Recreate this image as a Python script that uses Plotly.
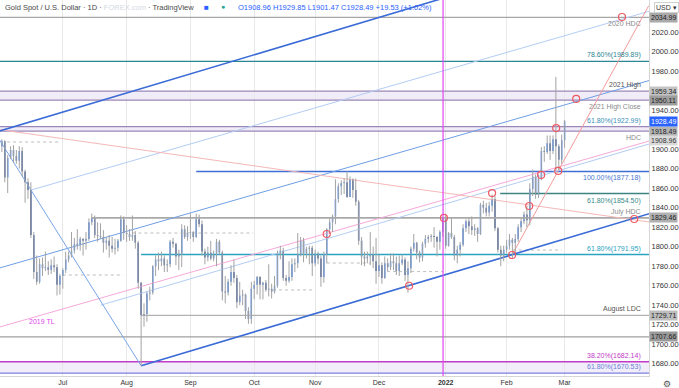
import plotly.graph_objects as go
import pandas as pd

# ---------------- data ----------------
dates = pd.bdate_range("2021-06-01", "2022-03-01")

open_ = [
    1906, 1903, 1908, 1871, 1891, 1899, 1893, 1888, 1898, 1877, 1866, 1858, 1812, 1774, 1764, 1782, 1778, 1779, 1776, 1781, 1779, 1761,
    1770, 1776, 1787, 1791, 1796, 1803, 1802, 1808, 1806, 1808, 1825, 1829.5, 1812, 1811, 1810, 1804, 1806, 1801, 1798, 1799, 1806, 1828,
    1814, 1813, 1810, 1812, 1804, 1763, 1729.7, 1731, 1752, 1753, 1780, 1787, 1785, 1788, 1781, 1782, 1805, 1803, 1790, 1793, 1818, 1810,
    1814, 1815, 1810, 1828, 1823, 1795, 1789, 1794, 1788, 1793, 1805, 1794, 1754, 1753, 1764, 1774, 1768, 1743, 1750, 1751, 1734, 1726,
    1757, 1761, 1769, 1761, 1763, 1756, 1757, 1754, 1760, 1793, 1796, 1768, 1765, 1769, 1782, 1783, 1792, 1806, 1793, 1798, 1799,
    1783, 1793, 1788, 1769, 1792, 1818, 1825, 1831, 1849, 1862, 1865, 1866, 1851, 1869, 1858, 1846, 1806, 1790, 1788, 1790, 1792, 1785,
    1775, 1781, 1768, 1783, 1779, 1785, 1783, 1775, 1783, 1787, 1771, 1778, 1798, 1804, 1794, 1789, 1803, 1808, 1810, 1811, 1810, 1805, 1815,
    1829, 1801, 1814, 1810, 1791, 1797, 1802, 1819, 1826, 1821, 1817, 1819, 1813, 1843, 1840, 1835, 1842, 1849, 1819, 1797, 1791,
    1797, 1801, 1807, 1804, 1808, 1820, 1826, 1833, 1827, 1859, 1872, 1853, 1870, 1898, 1897, 1906, 1898, 1910, 1903, 1889,
    1908.96,
]
high = [
    1916, 1910, 1909, 1894, 1903, 1904, 1899, 1903, 1902, 1879, 1870, 1866, 1815, 1791, 1788, 1789, 1795, 1785, 1787, 1790, 1782, 1772,
    1778, 1795, 1795, 1815, 1809, 1818, 1810, 1809, 1815, 1829, 1834, 1832, 1825, 1824, 1817, 1810, 1812, 1810, 1808, 1808, 1832, 1831,
    1822, 1818, 1832, 1816, 1806, 1764, 1742, 1754, 1759, 1781, 1791, 1794, 1795, 1791, 1787, 1807, 1809, 1804, 1797, 1823, 1822, 1821,
    1834, 1816, 1834, 1833, 1827, 1798, 1800, 1806, 1796, 1808, 1807, 1796, 1770, 1767, 1781, 1787, 1771, 1764, 1756, 1752, 1738, 1764,
    1765, 1770, 1770, 1764, 1766, 1782, 1762, 1770, 1796, 1801, 1799, 1771, 1785, 1788, 1788, 1814, 1810, 1809, 1800, 1801, 1801,
    1797, 1795, 1791, 1795, 1819, 1829, 1833, 1869, 1865, 1868, 1870, 1877.18, 1872, 1870, 1870, 1848, 1810, 1795, 1795, 1815, 1800, 1809,
    1792, 1784, 1790, 1788, 1793, 1793, 1790, 1791, 1792, 1789, 1785, 1800, 1813, 1805, 1796, 1805, 1812, 1812, 1813, 1820, 1811, 1817, 1830,
    1832, 1815, 1829, 1812, 1801, 1805, 1823, 1828, 1829, 1831, 1823, 1820, 1845, 1847, 1845, 1846, 1853.5, 1852, 1820, 1801, 1801,
    1807, 1813, 1809, 1813, 1823, 1829, 1836, 1842, 1865, 1879, 1874, 1874, 1902, 1903, 1914, 1914, 1914, 1974, 1905, 1915,
    1929.85,
]
low = [
    1897, 1897, 1866, 1855, 1890, 1886, 1885, 1880, 1872, 1845, 1849, 1809, 1767, 1761, 1762, 1770, 1775, 1771, 1772, 1774, 1750, 1751,
    1757, 1773, 1784, 1789, 1793, 1797, 1796, 1791, 1797, 1806, 1822, 1809, 1805, 1808, 1794, 1797, 1789, 1794, 1792, 1795, 1805, 1807,
    1805, 1806, 1806, 1798, 1757, 1678, 1718, 1723, 1745, 1751, 1770, 1776, 1780, 1774, 1774, 1779, 1799, 1781, 1776, 1779, 1808, 1806,
    1808, 1805, 1809, 1820, 1791, 1782, 1785, 1786, 1785, 1780, 1792, 1745, 1742, 1750, 1760, 1763, 1737, 1740, 1740, 1726, 1721, 1721,
    1746, 1751, 1746, 1746, 1754, 1749, 1747, 1752, 1758, 1787, 1765, 1760, 1763, 1765, 1774, 1778, 1790, 1784, 1788, 1782, 1770,
    1780, 1782, 1759, 1763, 1783, 1813, 1815, 1823, 1845, 1853, 1854, 1850, 1851, 1850, 1842, 1802, 1781, 1780, 1783, 1781, 1778, 1762,
    1769, 1762, 1767, 1775, 1776, 1776, 1771, 1770, 1781, 1765, 1753, 1773, 1795, 1787, 1784, 1785, 1799, 1804, 1805, 1799, 1790, 1797, 1810,
    1798, 1800, 1808, 1786, 1783, 1790, 1800, 1815, 1813, 1812, 1811, 1805, 1812, 1834, 1831, 1831, 1836, 1816, 1794, 1780, 1785,
    1794, 1797, 1788, 1792, 1805, 1815, 1823, 1820, 1822, 1852, 1849, 1850, 1868, 1887, 1895, 1889, 1895, 1878, 1878, 1885,
    1901.47,
]
close = [
    1903, 1908, 1871, 1891, 1899, 1893, 1888, 1898, 1877, 1866, 1858, 1812, 1774, 1764, 1782, 1778, 1779, 1776, 1781, 1779, 1761, 1770,
    1776, 1787, 1791, 1796, 1803, 1802, 1808, 1806, 1808, 1825, 1829.5, 1812, 1811, 1810, 1804, 1806, 1801, 1798, 1799, 1806, 1828, 1814,
    1813, 1810, 1812, 1804, 1763, 1729.7, 1731, 1752, 1753, 1780, 1787, 1785, 1788, 1781, 1782, 1805, 1803, 1790, 1793, 1818, 1810, 1814,
    1815, 1810, 1828, 1823, 1795, 1789, 1794, 1788, 1793, 1805, 1794, 1754, 1753, 1764, 1774, 1768, 1743, 1750, 1751, 1734, 1726, 1757,
    1761, 1769, 1761, 1763, 1756, 1757, 1754, 1760, 1793, 1796, 1768, 1765, 1769, 1782, 1783, 1792, 1806, 1793, 1798, 1799, 1783,
    1793, 1788, 1769, 1792, 1818, 1825, 1831, 1849, 1862, 1865, 1866, 1851, 1869, 1858, 1846, 1806, 1790, 1788, 1790, 1792, 1785, 1775,
    1781, 1768, 1783, 1779, 1785, 1783, 1775, 1783, 1787, 1771, 1778, 1798, 1804, 1794, 1789, 1803, 1808, 1810, 1811, 1810, 1805, 1815, 1829,
    1801, 1814, 1810, 1791, 1797, 1802, 1819, 1826, 1821, 1817, 1819, 1813, 1843, 1840, 1835, 1842, 1849, 1819, 1797, 1791, 1797,
    1801, 1807, 1804, 1808, 1820, 1826, 1833, 1827, 1859, 1872, 1853, 1870, 1898, 1897, 1906, 1898, 1910, 1903, 1889, 1908.96,
    1928.49,
]

month_names = ["Jun", "Jul", "Aug", "Sep", "Oct", "Nov", "Dec", "2022", "Feb", "Mar"]

# horizontal levels (price) and the bar index they start from
levels = {
    "hdc2020": 2034.99, "fib786": 1989.89, "high2021": 1959.34, "highclose2021": 1950.11,
    "fib618_top": 1922.99, "hdc": 1918.49, "prev_close": 1908.96, "fib100": 1877.18,
    "fib618_mid": 1854.50, "july_hdc": 1829.46, "fib618_low": 1791.95, "aug_ldc": 1729.71,
    "low_1707": 1707.66, "fib382_btm": 1682.14, "fib618_btm": 1670.53,
}
level_start = {"fib100": 68, "fib618_mid": 172.8, "july_hdc": 32, "fib618_low": 49, "aug_ldc": 49}

# trend lines: (bar index pair, price pair)
upper_channel = ([0, 225], [1918.3, 2118.6])
lower_channel = ([49, 225], [1678.0, 1834.6])
mid_line = ([0, 225], [1778.0, 1971.0])
light_line_top = ([11, 225], [1858.0, 2042.0])
light_line_low = ([35, 225], [1740.0, 1906.0])
tl_2019 = ([0, 225], [1717.5, 1909.0])
down_pink = ([0, 225], [1920.0, 1825.0])
steep_red = ([176.9, 224], [1791.5, 2047.0])
steep_blue = ([0, 49], [1910.4, 1678.0])

circle_x = [113, 141.4, 153.4, 170, 176.9, 182.8, 186.9, 192.1, 192.8, 199, 214.8, 219]
circle_p = [1813, 1760, 1829.5, 1855, 1791.5, 1841.7, 1873.5, 1921.6, 1877.6, 1951.4, 2035.4, 1828.4]

dotted_x0 = [2.8, 22, 46, 94.5, 113, 133.8, 177.2]
dotted_x1 = [21, 42.8, 87.6, 108.3, 128, 153, 194]
dotted_p = [1907.3, 1771, 1814, 1755.7, 1783.3, 1774.5, 1796.6]

year_line_x = 153.1
price_ticks = [2020, 2000, 1980, 1940, 1900, 1880, 1860, 1840, 1820, 1800, 1780, 1760, 1740, 1720, 1700, 1680]

# ---------------- figure ----------------
idx = list(range(len(dates)))
X0, X1 = 0.35, 224.1
Y0, Y1 = 1667.5, 2052.8
FONT = "Liberation Sans, Arial, sans-serif"

fig = go.Figure()

# bands
for top, bot, fill in [(levels["high2021"], levels["highclose2021"], "rgba(149,117,205,0.14)"),
                       (levels["fib618_top"], levels["hdc"], "rgba(149,117,205,0.14)"),
                       (levels["fib382_btm"], levels["fib618_btm"], "rgba(149,117,205,0.12)")]:
    fig.add_shape(type="rect", xref="x", yref="y", x0=X0 - 5, x1=X1 + 5, y0=bot, y1=top,
                  fillcolor=fill, line_width=0, layer="below")

def hline(name, color, width=1.2, dash="solid"):
    x_start = level_start.get(name, X0 - 5)
    fig.add_trace(go.Scatter(x=[x_start, X1 + 5], y=[levels[name], levels[name]], mode="lines",
                             line=dict(color=color, width=width, dash=dash), hoverinfo="skip"))

hline("hdc2020", "#a6a6a6", 1.2)
hline("fib786", "#2b8592", 1.2)
hline("high2021", "#9b88b8", 1.2)
hline("highclose2021", "#9b88b8", 1.2)
hline("fib618_top", "#9b88b8", 1.2)
hline("hdc", "#9b88b8", 1.2)
hline("fib100", "#3f6fd6", 1.5)
hline("fib618_mid", "#3c8484", 1.3)
hline("july_hdc", "#a9a9a9", 1.8)
hline("fib618_low", "#2aa3c3", 1.5)
hline("aug_ldc", "#b2b2b2", 1.3)
hline("low_1707", "#a0a0a0", 1.3)
hline("fib382_btm", "#c23ac8", 1.5)
hline("fib618_btm", "#7d7fe0", 1.3)

# dotted reference segments
for a, b, p in zip(dotted_x0, dotted_x1, dotted_p):
    fig.add_trace(go.Scatter(x=[a, b], y=[p, p], mode="lines",
                             line=dict(color="#bdbdbd", width=1, dash="dot"), hoverinfo="skip"))

# trend lines
def tline(pair, color, width):
    fig.add_trace(go.Scatter(x=pair[0], y=pair[1], mode="lines",
                             line=dict(color=color, width=width), hoverinfo="skip"))

tline(light_line_top, "#b3cdf4", 1)
tline(light_line_low, "#b3cdf4", 1)
tline(mid_line, "#6f9ee6", 1)
tline(tl_2019, "#f6a9d9", 1)
tline(down_pink, "#f6b8b8", 1)
tline(steep_red, "#f39a9a", 1)
tline(steep_blue, "#78a4e6", 1)
tline(upper_channel, "#3b6bd6", 1.6)
tline(lower_channel, "#3b6bd6", 1.6)

# wicks
wx, wy = [], []
for i, h, l in zip(idx, high, low):
    wx += [i, i, None]
    wy += [l, h, None]
fig.add_trace(go.Scatter(x=wx, y=wy, mode="lines", line=dict(color="#a3a3a3", width=1), hoverinfo="skip"))

# candle bodies
fig.add_trace(go.Candlestick(
    x=idx, open=open_, high=high, low=low, close=close,
    increasing=dict(fillcolor="#2e7cf4", line=dict(color="#2e7cf4", width=0)),
    decreasing=dict(fillcolor="#1f4390", line=dict(color="#1f4390", width=0)),
    whiskerwidth=0, hoverinfo="skip"))

# circles
fig.add_trace(go.Scatter(x=circle_x, y=circle_p, mode="markers",
                         marker=dict(symbol="circle-open", size=7, color="#ee5a64", line=dict(width=1.2)),
                         hoverinfo="skip"))

# year separator
fig.add_shape(type="line", xref="x", yref="paper", x0=year_line_x, x1=year_line_x, y0=0, y1=1,
              line=dict(color="#e046f0", width=1.2))

# level labels
LX = 222.2
def lab(text, price, color, below=False, x=LX, anchor="right"):
    fig.add_annotation(x=x, y=price, xref="x", yref="y", text=text, showarrow=False,
                       xanchor=anchor, yanchor="top" if below else "bottom",
                       yshift=-1 if below else 0,
                       font=dict(size=7, color=color, family=FONT))

lab("2020 HDC", levels["hdc2020"], "#8c8c8c", below=True)
lab("78.60%(1989.89)", levels["fib786"], "#2b8592")
lab("2021 High", levels["high2021"], "#555555")
lab("2021 High Close", levels["highclose2021"], "#8c8c8c", below=True)
lab("61.80%(1922.99)", levels["fib618_top"], "#3a8fb5")
lab("HDC", levels["hdc"], "#8c8c8c", below=True)
lab("100.00%(1877.18)", levels["fib100"], "#4a78d0", below=True)
lab("61.80%(1854.50)", levels["fib618_mid"], "#3c8a8a", below=True)
lab("July HDC", levels["july_hdc"], "#8c8c8c")
lab("61.80%(1791.95)", levels["fib618_low"], "#2a9fc0")
lab("August LDC", levels["aug_ldc"], "#555555")
lab("38.20%(1682.14)", levels["fib382_btm"], "#c23ac8")
lab("61.80%(1670.53)", levels["fib618_btm"], "#6a7fe0")
fig.add_annotation(x=14.8, y=1722.9, xref="x", yref="y", text="2019 TL", showarrow=False,
                   font=dict(size=7, color="#e046f0", family=FONT))

# price tags on the axis
tags = [("hdc2020", "#a9a9a9", "#222"), ("high2021", "#c4c4c4", "#222"), ("highclose2021", "#9e9e9e", "#222"),
        ("hdc", "#b4b4b4", "#222"), ("prev_close", "#d9d9d9", "#333"), ("july_hdc", "#b0b0b0", "#222"),
        ("aug_ldc", "#bdbdbd", "#222"), ("low_1707", "#9a9a9a", "#222")]
for name, bg, fc in tags:
    fig.add_annotation(xref="paper", yref="y", x=1, y=levels[name], xanchor="left", yanchor="middle",
                       text=f"{levels[name]:.2f}", showarrow=False, bgcolor=bg, borderpad=1, xshift=0,
                       font=dict(size=7, color=fc, family=FONT))
fig.add_annotation(xref="paper", yref="y", x=1, y=close[-1], xanchor="left", yanchor="middle",
                   text=f"{close[-1]:.2f}", showarrow=False, bgcolor="#2962ff", borderpad=1, xshift=0,
                   font=dict(size=7, color="white", family=FONT))

# header
fig.add_annotation(xref="paper", yref="paper", x=0.004, y=1, xanchor="left", yanchor="top", yshift=-1,
                   text="Gold Spot / U.S. Dollar · 1D · <span style='color:#d3d8e2'>FOREX.com</span> · TradingView",
                   showarrow=False, font=dict(size=7.5, color="#4a4a4a", family=FONT))
fig.add_annotation(xref="paper", yref="paper", x=0.312, y=1, xanchor="left", yanchor="top", yshift=-1,
                   text="<span style='color:#2962ff'>■</span>", showarrow=False, font=dict(size=8, family=FONT))
fig.add_annotation(xref="paper", yref="paper", x=0.338, y=1, xanchor="left", yanchor="top", yshift=-1,
                   text="<span style='color:#26a69a'>●</span>", showarrow=False, font=dict(size=7, family=FONT))
fig.add_annotation(xref="paper", yref="paper", x=0.364, y=1, xanchor="left", yanchor="top", yshift=-1,
                   text=f"O{open_[-1]:.2f} H{high[-1]:.2f} L{low[-1]:.2f} C{close[-1]:.2f} "
                        f"+{close[-1]-close[-2]:.2f} (+{(close[-1]/close[-2]-1)*100:.2f}%)",
                   showarrow=False, font=dict(size=7.5, color="#2962ff", family=FONT))
fig.add_annotation(xref="paper", yref="paper", x=1, y=1, xanchor="left", yanchor="top", xshift=5, yshift=-2,
                   text="USD ▾", showarrow=False, bordercolor="#d0d0d0", borderwidth=1, borderpad=1,
                   font=dict(size=7, color="#333", family=FONT))
fig.add_annotation(xref="paper", yref="paper", x=1, y=0, xanchor="left", yanchor="top", xshift=12, yshift=-1,
                   text="⚙", showarrow=False, font=dict(size=9, color="#555", family="DejaVu Sans"))

# month ticks from the dates
month_idx = [i for i in idx if i == 0 or dates[i].month != dates[i - 1].month]
month_txt = [("<b>%s</b>" % m if m == "2022" else m) for m in month_names]

fig.update_layout(
    width=679, height=388, margin=dict(l=0, r=30, t=0, b=12),
    paper_bgcolor="white", plot_bgcolor="white", showlegend=False,
    font=dict(family=FONT, size=7, color="#333"),
    xaxis=dict(range=[X0, X1], tickvals=month_idx, ticktext=month_txt, showgrid=True,
               gridcolor="#e8e8e8", gridwidth=1, zeroline=False, rangeslider=dict(visible=False),
               ticks="", tickfont=dict(size=7, color="#333"), showline=True, linecolor="#d6d6d6",
               fixedrange=True),
    yaxis=dict(range=[Y0, Y1], side="right", tickvals=price_ticks,
               ticktext=[f"{v:.2f}" for v in price_ticks], showgrid=False, zeroline=False,
               ticks="", tickfont=dict(size=7.5, color="#333"), showline=True, linecolor="#d6d6d6"),
)

fig.write_html("out.html", config={"displayModeBar": False},
               post_script="document.body.style.margin='0';document.body.style.overflow='hidden';")
